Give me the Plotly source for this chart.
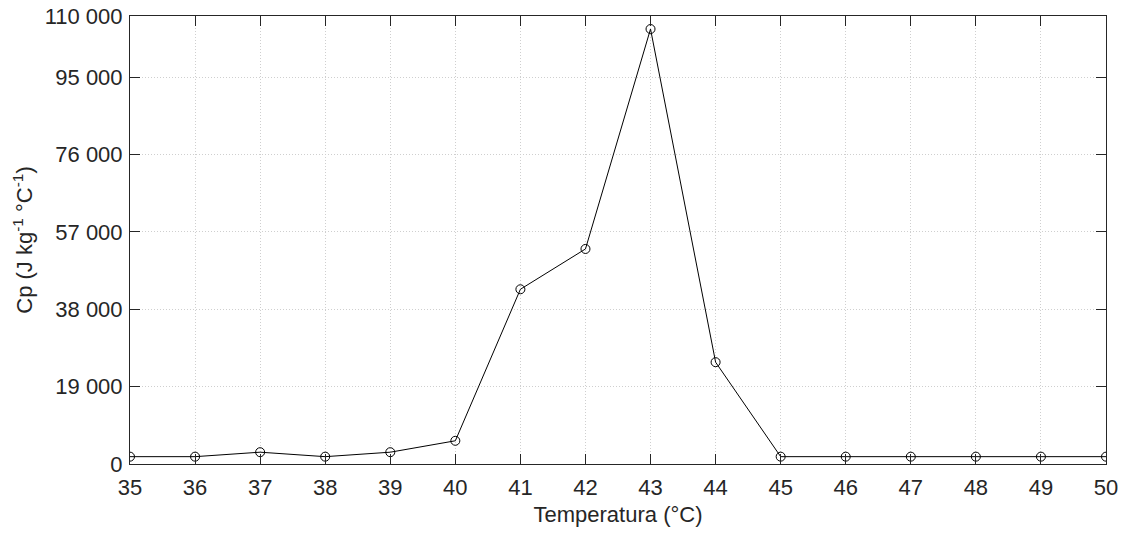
import plotly.graph_objects as go

temperatura = [35, 36, 37, 38, 39, 40, 41, 42, 43, 44, 45, 46, 47, 48, 49, 50]
cp = [1800, 1800, 2900, 1800, 2900, 5700, 42900, 52800, 106800, 25000,
      1800, 1800, 1800, 1800, 1800, 1800]

y_tickvals = [0, 19000, 38000, 57000, 76000, 95000, 110000]
y_ticktext = ["0", "19 000", "38 000", "57 000", "76 000", "95 000", "110 000"]
x_tickvals = list(range(35, 51))

font_family = "Liberation Sans, Arial, sans-serif"
txt = "#262626"

fig = go.Figure()
fig.add_trace(go.Scatter(
    x=temperatura, y=cp, mode="lines+markers",
    line=dict(color="black", width=1),
    marker=dict(symbol="circle-open", size=9, color="black", line=dict(width=1)),
    showlegend=False,
))

axis_common = dict(
    showline=True, linecolor=txt, linewidth=1, mirror="ticks",
    ticks="inside", ticklen=10, tickwidth=1, tickcolor=txt,
    showgrid=True, gridcolor="#cfcfcf", griddash="1px,2px", gridwidth=1,
    zeroline=False, automargin=False,
    tickfont=dict(family=font_family, size=22, color=txt),
)

fig.update_layout(
    width=1123, height=533,
    margin=dict(l=130, r=17, t=16, b=69),
    paper_bgcolor="white", plot_bgcolor="white",
    font=dict(family=font_family, color=txt, size=22),
    xaxis=dict(
        range=[35, 50], tickvals=x_tickvals, ticklabelstandoff=4,
        title=dict(text="Temperatura (°C)", font=dict(size=22, color=txt), standoff=7),
        **axis_common,
    ),
    yaxis=dict(
        range=[0, 110000], tickvals=y_tickvals, ticktext=y_ticktext,
        ticklabelstandoff=2,
        title=dict(text="Cp (J kg<sup>-1</sup> °C<sup>-1</sup>)", font=dict(size=22, color=txt), standoff=5),
        **axis_common,
    ),
)

fig.write_html("out.html")
